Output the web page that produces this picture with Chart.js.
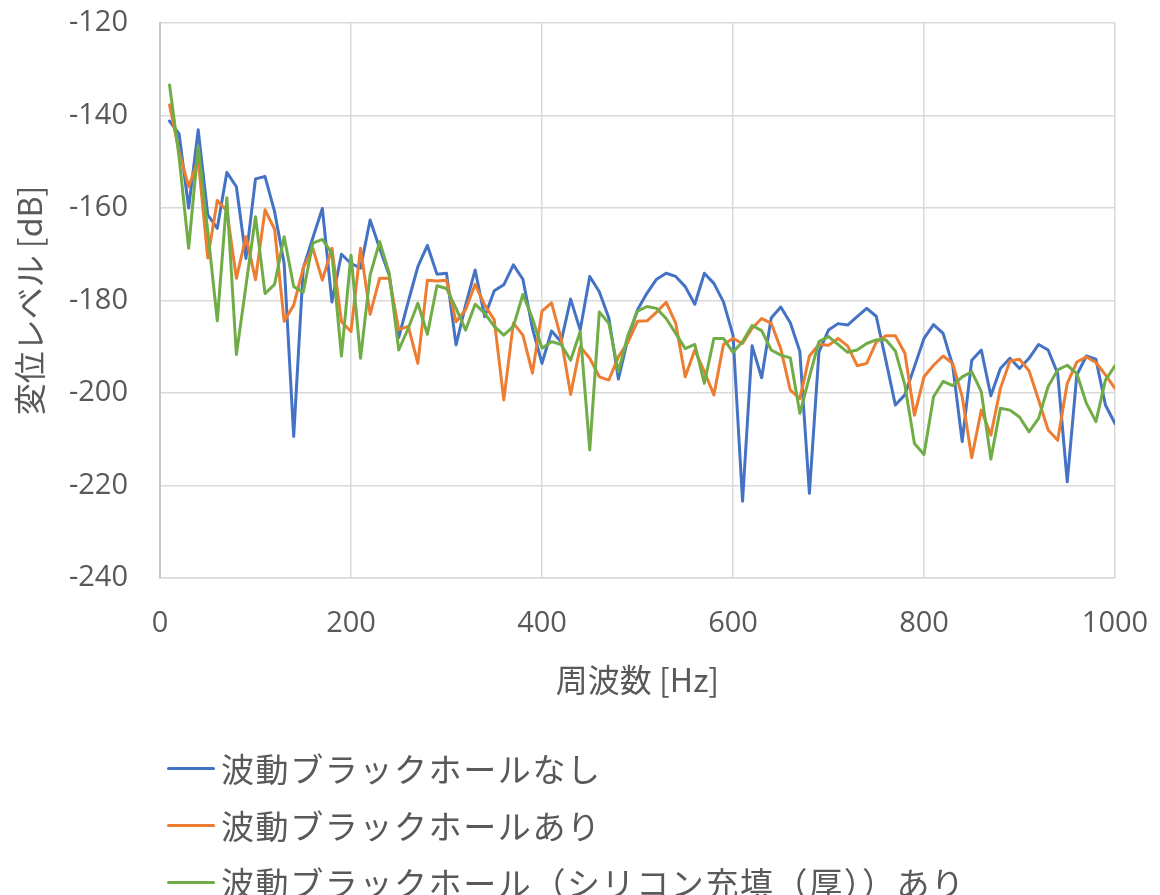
<!DOCTYPE html>
<html lang="ja">
<head>
<meta charset="utf-8">
<title>変位レベル</title>
<script src="https://cdn.jsdelivr.net/npm/chart.js@4.4.1/dist/chart.umd.min.js"></script>
<style>
  html, body { margin: 0; padding: 0; background: #ffffff; }
  #wrap { position: relative; width: 1160px; height: 895px; overflow: hidden; }
  #chartBox { position: absolute; left: 0; top: 0; width: 1160px; height: 720px; }
  #legend { position: absolute; left: 0; top: 0; width: 1160px; height: 895px; pointer-events: none; }
  .row { position: absolute; left: 167px; height: 40px; display: flex; align-items: center; }
  .swatch { width: 48px; height: 3px; border-radius: 1.5px; margin-right: 6px; }
  .txt { font-family: "Noto Sans CJK JP", sans-serif; font-size: 33px; line-height: 40px;
         letter-spacing: 1.6px; color: #595959; white-space: nowrap; }
</style>
</head>
<body>
<div id="wrap">
  <div id="chartBox"><canvas id="c" width="1160" height="720"></canvas></div>
  <div id="legend"></div>
</div>
<script>
// Frequency points [Hz]
const freqHz = [10, 20, 30, 40, 50, 60, 70, 80, 90, 100,
  110, 120, 130, 140, 150, 160, 170, 180, 190, 200,
  210, 220, 230, 240, 250, 260, 270, 280, 290, 300,
  310, 320, 330, 340, 350, 360, 370, 380, 390, 400,
  410, 420, 430, 440, 450, 460, 470, 480, 490, 500,
  510, 520, 530, 540, 550, 560, 570, 580, 590, 600,
  610, 620, 630, 640, 650, 660, 670, 680, 690, 700,
  710, 720, 730, 740, 750, 760, 770, 780, 790, 800,
  810, 820, 830, 840, 850, 860, 870, 880, 890, 900,
  910, 920, 930, 940, 950, 960, 970, 980, 990, 1000];

// Displacement level [dB] without the acoustic black hole
const levelNone = [-141.2, -144.0, -160.0, -143.1, -161.5, -164.4, -152.3, -155.4, -170.9, -153.7,
  -153.2, -160.8, -172.0, -209.4, -173.0, -166.5, -160.1, -180.3, -170.0, -172.0,
  -173.0, -162.6, -168.7, -174.5, -188.0, -180.2, -172.7, -168.1, -174.3, -174.1,
  -189.6, -181.0, -173.4, -183.5, -177.9, -176.6, -172.3, -175.4, -186.0, -193.6,
  -186.6, -188.9, -179.7, -186.4, -174.8, -178.1, -183.8, -197.0, -188.2, -182.0,
  -178.4, -175.4, -174.1, -174.8, -177.0, -180.8, -174.1, -176.3, -180.3, -187.5,
  -223.4, -189.8, -196.7, -183.8, -181.4, -184.8, -191.0, -221.7, -191.1, -186.4,
  -185.0, -185.3, -183.5, -181.7, -183.4, -192.9, -202.6, -200.4, -194.3, -188.2,
  -185.2, -187.1, -194.0, -210.5, -192.9, -190.7, -200.6, -194.7, -192.5, -194.7,
  -192.5, -189.5, -190.7, -195.8, -219.2, -196.1, -192.0, -192.7, -202.6, -206.6];

// Displacement level [dB] with the acoustic black hole
const levelAbh = [-137.7, -147.8, -155.4, -149.5, -170.8, -158.4, -160.6, -175.2, -166.2, -175.5,
  -160.4, -164.6, -184.5, -181.0, -173.0, -168.7, -175.6, -168.7, -184.6, -186.7,
  -168.7, -183.0, -175.2, -175.2, -186.3, -185.6, -193.6, -175.6, -175.8, -175.6,
  -184.6, -182.0, -176.5, -181.0, -184.2, -201.5, -184.9, -187.5, -195.7, -182.3,
  -180.5, -188.2, -200.3, -190.0, -192.5, -196.5, -197.2, -192.2, -189.0, -184.5,
  -184.4, -182.5, -180.4, -184.9, -196.5, -190.7, -195.4, -200.4, -189.5, -188.2,
  -189.3, -186.0, -183.9, -184.9, -190.4, -199.4, -201.2, -192.0, -189.5, -189.7,
  -188.2, -189.8, -194.1, -193.6, -189.0, -187.6, -187.6, -191.4, -204.8, -196.5,
  -194.0, -192.0, -193.6, -200.8, -214.0, -203.7, -209.1, -199.0, -193.1, -192.7,
  -195.2, -201.5, -208.0, -210.2, -197.9, -193.3, -192.2, -193.4, -196.1, -199.0];

// Displacement level [dB] with the black hole filled with silicone (thick)
const levelAbhSilicone = [-133.4, -149.0, -168.7, -146.7, -165.0, -184.4, -157.8, -191.7, -176.8, -161.9,
  -178.5, -176.5, -166.2, -177.0, -178.2, -167.6, -166.8, -169.8, -192.0, -170.2,
  -192.5, -174.5, -167.3, -174.1, -190.7, -186.0, -180.6, -187.3, -176.8, -177.4,
  -181.7, -186.4, -180.8, -182.8, -185.6, -187.5, -185.6, -178.7, -183.9, -190.3,
  -188.9, -189.5, -192.9, -186.7, -212.3, -182.5, -184.9, -195.4, -187.5, -182.3,
  -181.3, -181.7, -183.9, -187.1, -190.4, -189.5, -197.9, -188.2, -188.2, -191.2,
  -188.9, -185.4, -186.5, -190.7, -191.8, -192.4, -204.4, -196.5, -188.9, -187.8,
  -189.5, -191.2, -190.7, -189.3, -188.5, -188.5, -190.9, -198.3, -210.9, -213.3,
  -200.8, -197.5, -198.4, -196.5, -195.4, -199.7, -214.3, -203.3, -203.7, -205.2,
  -208.4, -205.5, -198.6, -195.0, -194.0, -195.8, -202.2, -206.2, -197.2, -194.1];

const seriesNames = [
  "波動ブラックホールなし",
  "波動ブラックホールあり",
  "波動ブラックホール（シリコン充填（厚））あり"
];
const seriesColors = ["#4472C4", "#ED7D31", "#70AD47"];

const xTicks = [0, 200, 400, 600, 800, 1000];
const yTicks = [-240, -220, -200, -180, -160, -140, -120];

const xTitle = "周波数 [Hz]";
const yTitle = "変位レベル [dB]";

function toPoints(values) {
  return values.map((v, i) => ({ x: freqHz[i], y: v }));
}

const seriesValues = [levelNone, levelAbh, levelAbhSilicone];

const datasets = seriesValues.map((vals, i) => ({
  label: seriesNames[i],
  data: toPoints(vals),
  borderColor: seriesColors[i],
  backgroundColor: seriesColors[i],
  borderWidth: 3,
  borderJoinStyle: "round",
  borderCapStyle: "round",
  pointRadius: 0,
  pointHoverRadius: 0,
  tension: 0,
  fill: false,
  // later series are painted above earlier ones
  order: seriesValues.length - 1 - i
}));

const tickFont = { family: "'Open Sans', 'Noto Sans', sans-serif", size: 29 };
const titleFont = { family: "'Noto Sans CJK JP', sans-serif", size: 32 };
const textColor = "#595959";
const gridColor = "#D9D9D9";

const CANVAS_H = 720;
const PLOT_LEFT = 160;
const PLOT_BOTTOM = 578;

// keep tick-label overhang from pushing the plot area inwards
function noOverhang(scale) {
  scale.paddingTop = 0;
  scale.paddingBottom = 0;
  scale.paddingLeft = 0;
  scale.paddingRight = 0;
}

const chart = new Chart(document.getElementById("c"), {
  type: "line",
  data: { datasets },
  options: {
    responsive: false,
    animation: false,
    devicePixelRatio: 1,
    layout: { padding: { left: 0, right: 45, top: 23, bottom: 0 } },
    plugins: {
      legend: { display: false },
      tooltip: { enabled: false }
    },
    scales: {
      x: {
        type: "linear",
        min: xTicks[0],
        max: xTicks[xTicks.length - 1],
        afterBuildTicks(scale) { scale.ticks = xTicks.map(v => ({ value: v })); },
        afterFit(scale) { scale.height = CANVAS_H - PLOT_BOTTOM; noOverhang(scale); },
        ticks: {
          font: tickFont,
          color: textColor,
          padding: 28,
          maxRotation: 0,
          autoSkip: false,
          callback: v => String(v)
        },
        grid: { color: gridColor, lineWidth: 1.5, drawTicks: false },
        border: { color: gridColor, width: 1.5 },
        title: {
          display: true,
          text: xTitle,
          font: titleFont,
          color: textColor,
          padding: { top: 0, bottom: 21 }
        }
      },
      y: {
        type: "linear",
        min: yTicks[0],
        max: yTicks[yTicks.length - 1],
        afterBuildTicks(scale) { scale.ticks = yTicks.map(v => ({ value: v })); },
        afterFit(scale) { scale.width = PLOT_LEFT; noOverhang(scale); },
        ticks: {
          font: tickFont,
          color: textColor,
          padding: 32,
          autoSkip: false,
          callback: v => String(v)
        },
        grid: { color: gridColor, lineWidth: 1.5, drawTicks: false },
        border: { color: "#C8C8C8", width: 2 },
        title: {
          display: true,
          text: yTitle,
          font: titleFont,
          color: textColor,
          padding: { top: 11, bottom: 0 }
        }
      }
    }
  }
});

// Legend: one entry per row below the chart
const legendRowsY = [748, 805, 862];
const legendEl = document.getElementById("legend");
chart.data.datasets.forEach((ds, i) => {
  const row = document.createElement("div");
  row.className = "row";
  row.style.top = legendRowsY[i] + "px";
  const sw = document.createElement("span");
  sw.className = "swatch";
  sw.style.background = ds.borderColor;
  const tx = document.createElement("span");
  tx.className = "txt";
  tx.textContent = ds.label;
  row.appendChild(sw);
  row.appendChild(tx);
  legendEl.appendChild(row);
});
</script>
</body>
</html>
